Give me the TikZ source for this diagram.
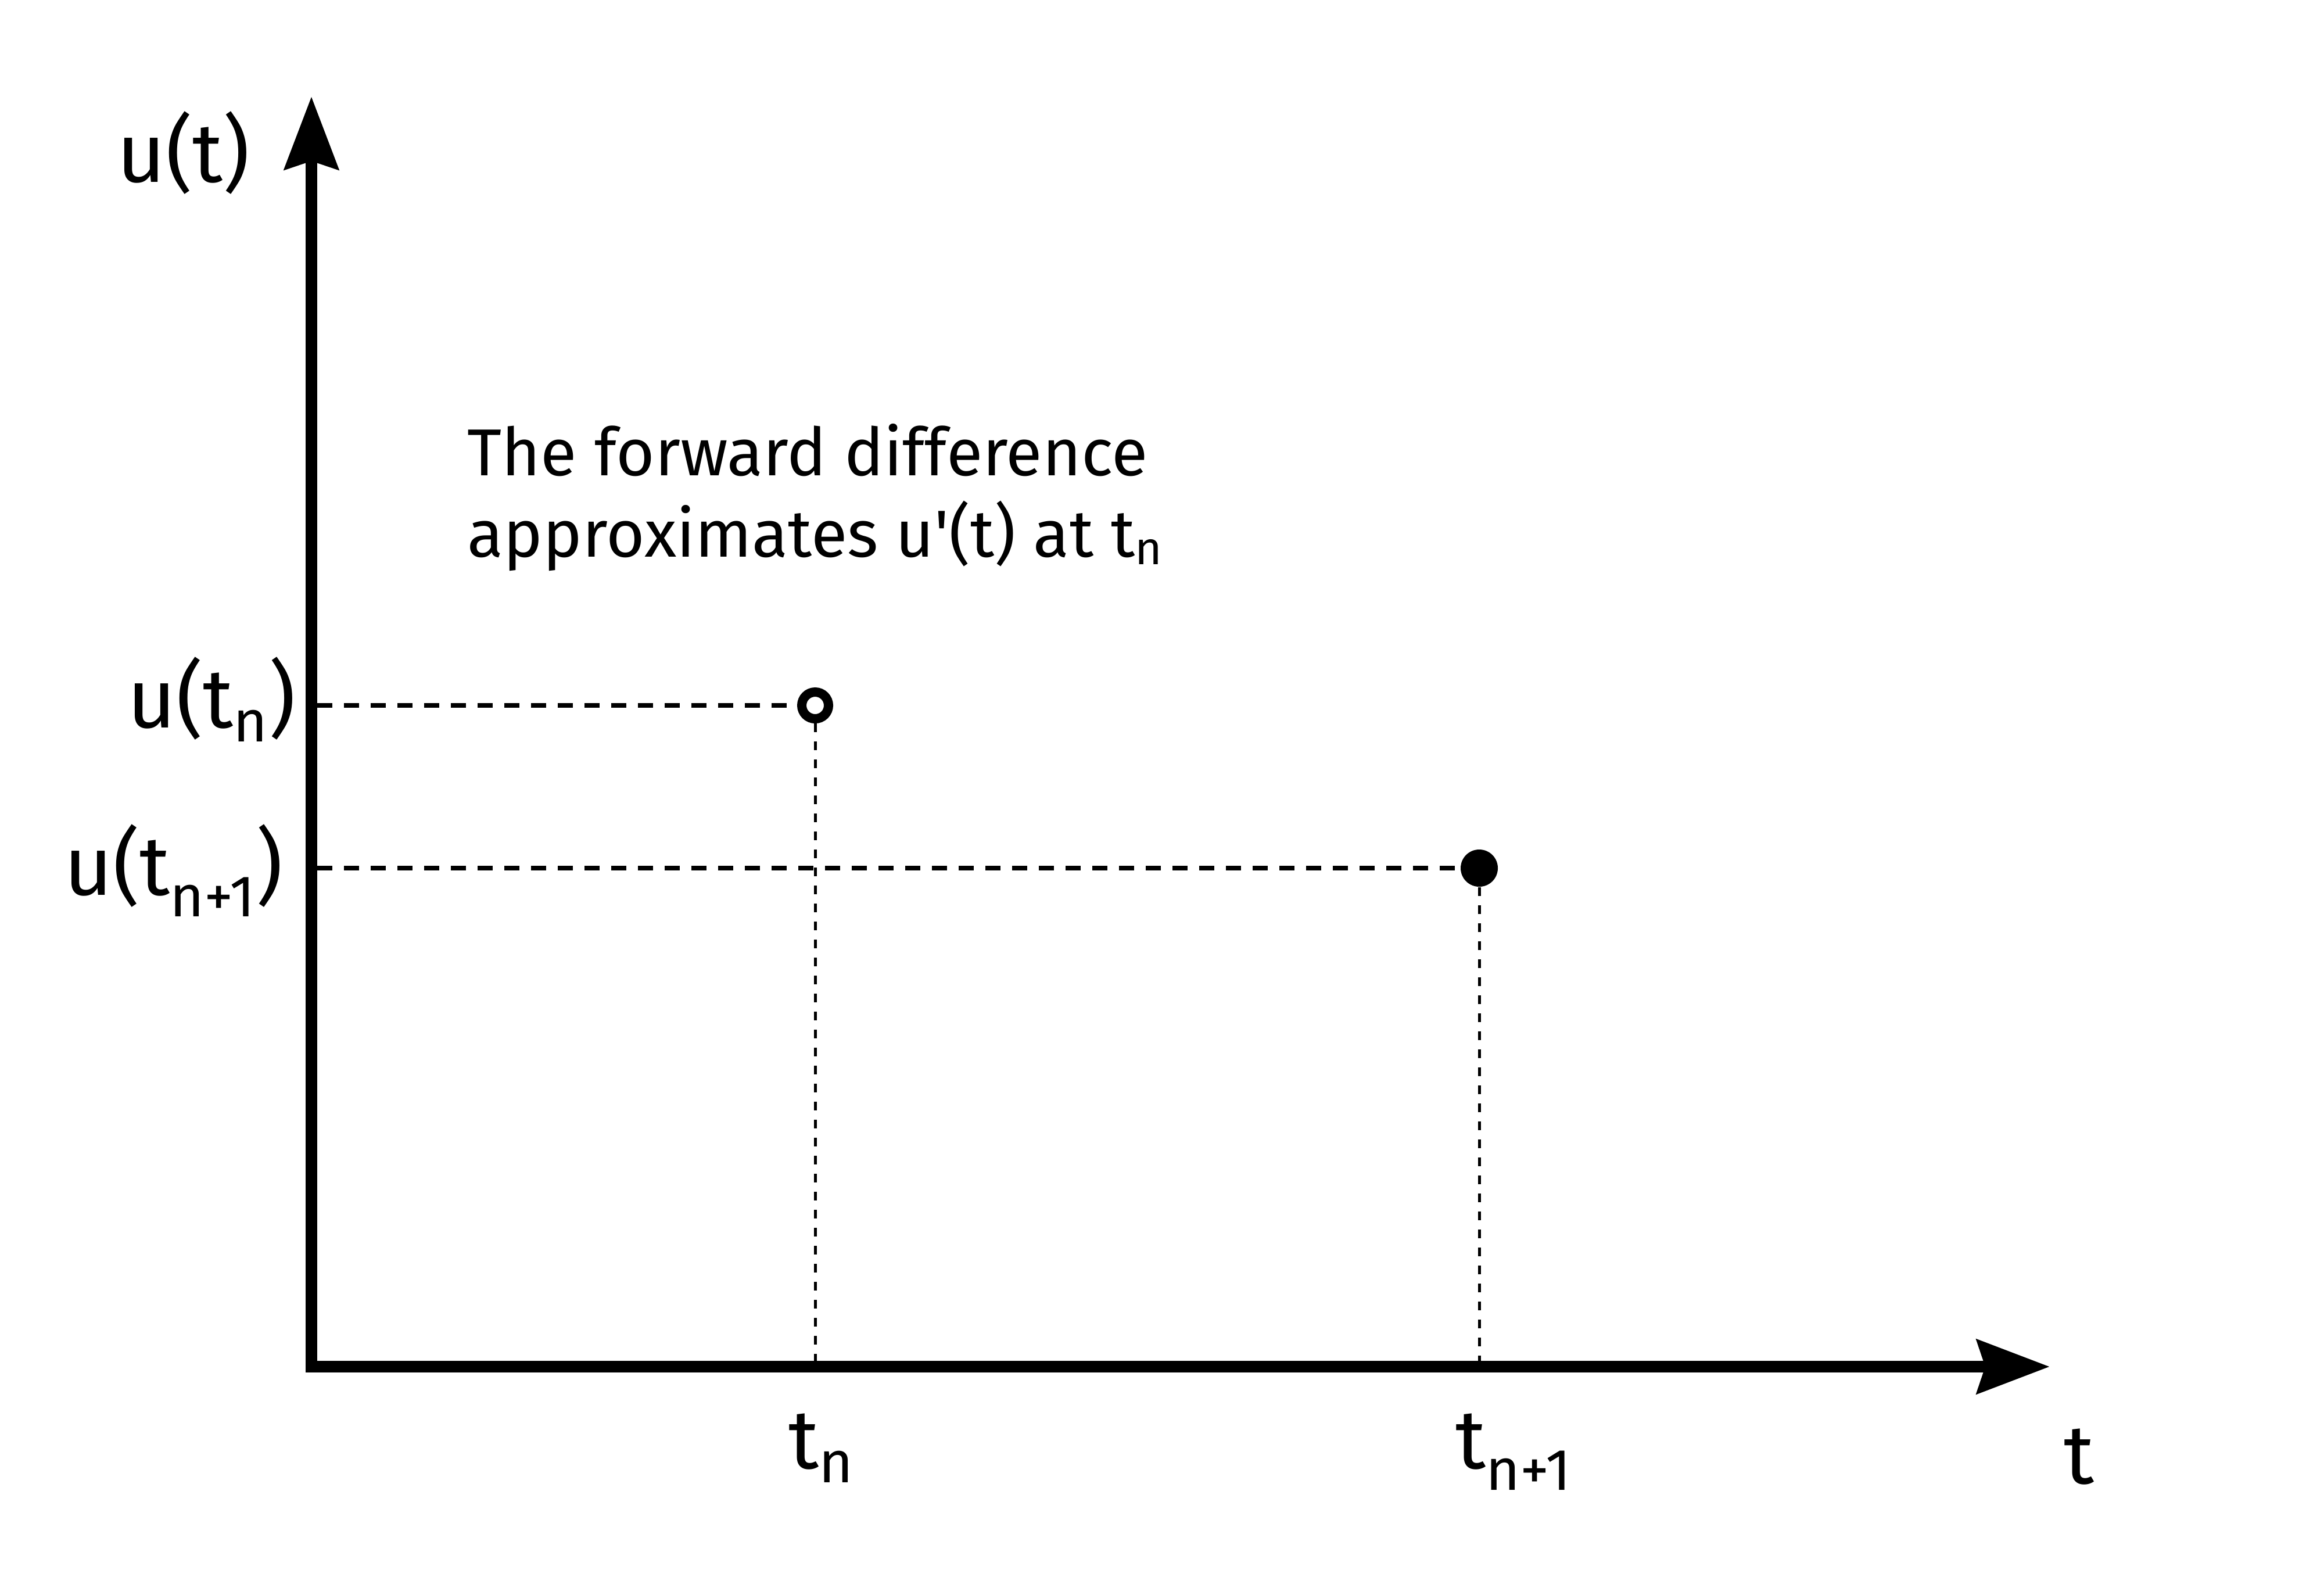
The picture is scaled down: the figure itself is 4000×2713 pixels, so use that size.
\documentclass[tikz,border=0pt]{standalone}
\usepackage{fontspec}
\setmainfont{Fira Sans}
\usetikzlibrary{arrows.meta}

\tikzset{
  axistip/.tip={Stealth[length=12.5mm,width=9.2mm,inset=1.4mm]},
  axisline/.style={line width=2mm, line join=miter},
  hguide/.style={line width=0.75mm, dash pattern=on 2.6mm off 2mm},
  vguide/.style={line width=0.5mm, dash pattern=on 1.5mm off 1.6mm},
  dotopen/.style={circle, draw, fill=white, line width=1.6mm, minimum size=4.6mm, inner sep=0pt},
  dotfull/.style={circle, fill, minimum size=6.4mm, inner sep=0pt},
  axislabel/.style={font=\fontsize{41}{46}\selectfont, inner sep=0pt},
  note/.style={font=\fontsize{32.5}{39.8}\selectfont, align=left, inner sep=0pt},
}

\begin{document}
\begin{tikzpicture}[x=0.1mm,y=-0.1mm]
  \useasboundingbox (0,0) rectangle (4000,2713);
  % Axes
  \coordinate (o) at (536,2352);
  \coordinate (ytip) at (536,166);
  \coordinate (xtip) at (3528,2352);
  \draw[axisline,axistip-axistip] (ytip) -- (o) -- (xtip);
  % Sample points
  \node[dotopen] (pn) at (1403,1214) {};
  \node[dotfull] (pn1) at (2546,1494) {};
  \coordinate (yn) at (546,1214);
  \coordinate (yn1) at (546,1494);
  \coordinate (xn) at (1403,2342);
  \coordinate (xn1) at (2546,2342);
  % Guide lines to the axes
  \draw[hguide] (yn) -- (pn);
  \draw[hguide] (yn1) -- (pn1);
  \draw[vguide] (pn) -- (xn);
  \draw[vguide] (pn1) -- (xn1);
  % Labels
  \node[axislabel, anchor=base] (ulab) at (316,313) {u(t)};
  \node[axislabel, anchor=base east] (uln) at (510,1252) {u(t\textsubscript{n})};
  \node[axislabel, anchor=base east] (uln1) at (488,1540) {u(t\textsubscript{n+1})};
  \node[axislabel, anchor=base west] (tn) at (1357,2527) {t\textsubscript{n}};
  \node[axislabel, anchor=base west] (tn1) at (2505,2527) {t\textsubscript{n+1}};
  \node[axislabel, anchor=base] (tlab) at (3578,2553) {t};
  \node[note, anchor=base west] (txt) at (804,958) {The forward difference\\approximates u\textquotesingle(t) at t\textsubscript{n}};
\end{tikzpicture}
\end{document}
